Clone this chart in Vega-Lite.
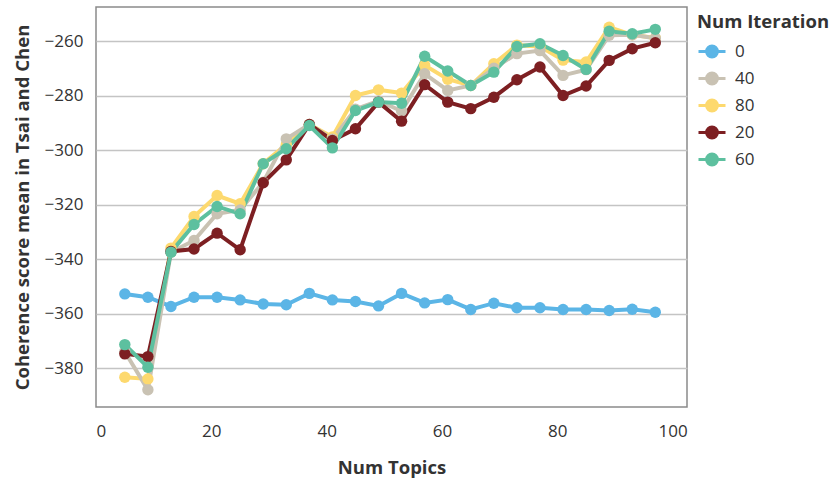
{
  "$schema": "https://vega.github.io/schema/vega-lite/v6.json",
  "width": 591,
  "height": 400,
  "autosize": {"type": "none"},
  "padding": {"left": 96, "top": 7, "right": 146, "bottom": 78},
  "config": {
    "font": "Open Sans",
    "view": {"stroke": "#8a8a8a", "strokeWidth": 1.5},
    "axis": {"labelColor": "#333333", "titleColor": "#333333"}
  },
  "data": {"values": [
    {"t":5,"k":"0","v":-352.8},{"t":9,"k":"0","v":-354.0},{"t":13,"k":"0","v":-357.4},{"t":17,"k":"0","v":-354.0},{"t":21,"k":"0","v":-354.0},{"t":25,"k":"0","v":-355.0},{"t":29,"k":"0","v":-356.5},{"t":33,"k":"0","v":-356.8},{"t":37,"k":"0","v":-352.6},{"t":41,"k":"0","v":-355.0},{"t":45,"k":"0","v":-355.6},{"t":49,"k":"0","v":-357.2},{"t":53,"k":"0","v":-352.6},{"t":57,"k":"0","v":-356.1},{"t":61,"k":"0","v":-354.9},{"t":65,"k":"0","v":-358.5},{"t":69,"k":"0","v":-356.2},{"t":73,"k":"0","v":-357.9},{"t":77,"k":"0","v":-357.9},{"t":81,"k":"0","v":-358.5},{"t":85,"k":"0","v":-358.5},{"t":89,"k":"0","v":-358.9},{"t":93,"k":"0","v":-358.4},{"t":97,"k":"0","v":-359.5},
    {"t":5,"k":"80","v":-383.4},{"t":9,"k":"80","v":-384.0},{"t":13,"k":"80","v":-336.0},{"t":17,"k":"80","v":-324.4},{"t":21,"k":"80","v":-316.7},{"t":25,"k":"80","v":-319.7},{"t":29,"k":"80","v":-305.0},{"t":33,"k":"80","v":-298.0},{"t":37,"k":"80","v":-290.6},{"t":41,"k":"80","v":-295.2},{"t":45,"k":"80","v":-280.0},{"t":49,"k":"80","v":-277.9},{"t":53,"k":"80","v":-279.1},{"t":57,"k":"80","v":-268.9},{"t":61,"k":"80","v":-274.0},{"t":65,"k":"80","v":-276.3},{"t":69,"k":"80","v":-268.3},{"t":73,"k":"80","v":-261.5},{"t":77,"k":"80","v":-262.0},{"t":81,"k":"80","v":-267.0},{"t":85,"k":"80","v":-267.7},{"t":89,"k":"80","v":-254.9},{"t":93,"k":"80","v":-257.7},{"t":97,"k":"80","v":-258.9},
    {"t":5,"k":"40","v":-374.0},{"t":9,"k":"40","v":-388.0},{"t":13,"k":"40","v":-337.5},{"t":17,"k":"40","v":-333.2},{"t":21,"k":"40","v":-323.4},{"t":25,"k":"40","v":-322.0},{"t":29,"k":"40","v":-311.8},{"t":33,"k":"40","v":-295.9},{"t":37,"k":"40","v":-290.6},{"t":41,"k":"40","v":-296.0},{"t":45,"k":"40","v":-285.0},{"t":49,"k":"40","v":-282.0},{"t":53,"k":"40","v":-285.7},{"t":57,"k":"40","v":-272.0},{"t":61,"k":"40","v":-278.1},{"t":65,"k":"40","v":-276.3},{"t":69,"k":"40","v":-270.0},{"t":73,"k":"40","v":-264.6},{"t":77,"k":"40","v":-263.5},{"t":81,"k":"40","v":-272.6},{"t":85,"k":"40","v":-270.5},{"t":89,"k":"40","v":-257.9},{"t":93,"k":"40","v":-257.7},{"t":97,"k":"40","v":-259.0},
    {"t":5,"k":"20","v":-374.8},{"t":9,"k":"20","v":-375.8},{"t":13,"k":"20","v":-337.2},{"t":17,"k":"20","v":-336.3},{"t":21,"k":"20","v":-330.5},{"t":25,"k":"20","v":-336.6},{"t":29,"k":"20","v":-312.0},{"t":33,"k":"20","v":-303.6},{"t":37,"k":"20","v":-290.6},{"t":41,"k":"20","v":-296.5},{"t":45,"k":"20","v":-292.2},{"t":49,"k":"20","v":-282.4},{"t":53,"k":"20","v":-289.4},{"t":57,"k":"20","v":-276.0},{"t":61,"k":"20","v":-282.4},{"t":65,"k":"20","v":-284.8},{"t":69,"k":"20","v":-280.6},{"t":73,"k":"20","v":-274.2},{"t":77,"k":"20","v":-269.5},{"t":81,"k":"20","v":-280.0},{"t":85,"k":"20","v":-276.5},{"t":89,"k":"20","v":-267.1},{"t":93,"k":"20","v":-262.8},{"t":97,"k":"20","v":-260.6},
    {"t":5,"k":"60","v":-371.4},{"t":9,"k":"60","v":-379.7},{"t":13,"k":"60","v":-337.5},{"t":17,"k":"60","v":-327.3},{"t":21,"k":"60","v":-320.7},{"t":25,"k":"60","v":-323.4},{"t":29,"k":"60","v":-305.0},{"t":33,"k":"60","v":-299.5},{"t":37,"k":"60","v":-291.0},{"t":41,"k":"60","v":-299.2},{"t":45,"k":"60","v":-285.5},{"t":49,"k":"60","v":-282.4},{"t":53,"k":"60","v":-282.8},{"t":57,"k":"60","v":-265.6},{"t":61,"k":"60","v":-271.0},{"t":65,"k":"60","v":-276.3},{"t":69,"k":"60","v":-271.4},{"t":73,"k":"60","v":-262.0},{"t":77,"k":"60","v":-261.0},{"t":81,"k":"60","v":-265.3},{"t":85,"k":"60","v":-270.4},{"t":89,"k":"60","v":-256.4},{"t":93,"k":"60","v":-257.3},{"t":97,"k":"60","v":-255.7}
  ]},
  "encoding": {
    "x": {
      "field": "t", "type": "quantitative",
      "scale": {"domain": [0, 102.5], "nice": false, "zero": false},
      "axis": {"values": [0, 20, 40, 60, 80, 100], "grid": false, "ticks": false, "domain": false,
               "labelPadding": 16, "labelFontSize": 17, "title": "Num Topics", "titleFontSize": 18.5,
               "titleFontWeight": "bold", "titlePadding": 19}
    },
    "y": {
      "field": "v", "type": "quantitative",
      "scale": {"domain": [-394.3, -247.5], "nice": false, "zero": false},
      "axis": {"values": [-380, -360, -340, -320, -300, -280, -260], "grid": true, "gridColor": "#c4c4c4",
               "gridWidth": 1.5, "ticks": false, "domain": false, "labelPadding": 13, "labelFontSize": 17,
               "title": "Coherence score mean in Tsai and Chen", "titleFontSize": 18.5,
               "titleFontWeight": "bold", "titlePadding": 12}
    },
    "color": {
      "field": "k", "type": "nominal",
      "scale": {"domain": ["0", "40", "80", "20", "60"],
                "range": ["#5bb5e6", "#c9c2b3", "#fdd96e", "#7d1f22", "#5dc09f"]},
      "legend": {"title": "Num Iteration", "titleFontSize": 18.5, "titleFontWeight": "bold", "titleColor": "#333333",
                 "labelFontSize": 17, "labelColor": "#333333", "offset": 4, "padding": 6, "rowPadding": 0,
                 "titlePadding": 5,
                 "symbolType": "M-1,0H1M-0.4,0a0.4,0.4 0 1,0 0.8,0a0.4,0.4 0 1,0 -0.8,0Z",
                 "symbolSize": 729, "symbolStrokeWidth": 3, "symbolOpacity": 1, "labelOffset": 8}
    }
  },
  "layer": [
    {"mark": {"type": "line", "strokeWidth": 4}},
    {"mark": {"type": "circle", "size": 130, "opacity": 1}}
  ]
}
